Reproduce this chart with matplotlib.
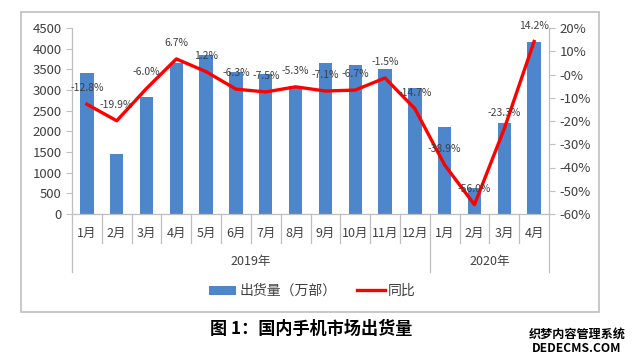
import matplotlib
matplotlib.use("Agg")
import matplotlib.pyplot as plt
from matplotlib.patches import Rectangle, Patch
from matplotlib.lines import Line2D
from matplotlib.ticker import FuncFormatter
import numpy as np

plt.rcParams['font.family'] = ['Noto Sans CJK SC', 'DejaVu Sans']
plt.rcParams['axes.unicode_minus'] = False

months = ["1月", "2月", "3月", "4月", "5月", "6月", "7月", "8月", "9月", "10月", "11月", "12月",
	"1月", "2月", "3月", "4月"]
years = ["2019年", "2020年"]
year_counts = [12, 4]

shipments = [3419, 1450, 2838, 3660, 3847, 3443, 3380, 3097, 3646, 3605, 3500, 3056,
	2097, 638, 2194, 4172]
yoy = [-12.8, -19.9, -6.0, 6.7, 1.2, -6.3, -7.5, -5.3, -7.1, -6.7, -1.5, -14.7,
	-38.9, -56.0, -23.3, 14.2]

bar_color = "#4e86cc"
line_color = "#ff0000"
text_color = "#404040"
axis_color = "#bfbfbf"

W, H = 638, 361
fig = plt.figure(figsize=(W / 100, H / 100), dpi=100)
ax = fig.add_axes([72 / W, 1 - 214 / H, (549 - 72) / W, (214 - 28) / H])
ax2 = ax.twinx()

x = np.arange(len(months))
ax.bar(x, shipments, width=0.45, color=bar_color, zorder=2)
ax2.plot(x, np.array(yoy) / 100, color=line_color, lw=2.4, zorder=3)

for xi, v in zip(x, yoy):
	ax2.annotate(f"{v:.1f}%", (xi, v / 100), xytext=(0, 11.5), textcoords="offset points",
		ha="center", va="center", fontsize=7.5, color=text_color, zorder=4)

ax.set_xlim(-0.5, len(months) - 0.5)
ax.set_ylim(0, 4500)
ax.set_yticks(np.arange(0, 4501, 500))
ax2.set_ylim(-0.6, 0.2)
ax2.set_yticks(np.arange(-0.6, 0.21, 0.1))
ax2.yaxis.set_major_formatter(FuncFormatter(lambda v, p: f"{v * 100:.0f}%"))

for a in (ax, ax2):
	a.tick_params(axis="y", labelsize=9.5, colors=text_color, length=4, width=0.8)
	a.tick_params(axis="y", color=axis_color)
	a.spines["top"].set_visible(False)
	for s in ("left", "right", "bottom"):
		a.spines[s].set_color(axis_color)
		a.spines[s].set_linewidth(0.9)
ax.spines["right"].set_visible(False)
ax2.spines["left"].set_visible(False)
ax2.spines["bottom"].set_visible(False)

# multi-level category axis
ax.set_xticks([])
trans = ax.get_xaxis_transform()
for xi, m in zip(x, months):
	ax.text(xi, -0.102, m, transform=trans, ha="center", va="center",
		fontsize=9, color=text_color)

bounds = [0]
for c in year_counts:
	bounds.append(bounds[-1] + c)
for b in range(len(months) + 1):
	bottom = -0.31 if b in bounds else -0.155
	ax.plot([b - 0.5, b - 0.5], [0, bottom], transform=trans, color=axis_color,
		lw=0.9, clip_on=False)
for i, yr in enumerate(years):
	center = (bounds[i] + bounds[i + 1] - 1) / 2
	ax.text(center, -0.255, yr, transform=trans, ha="center", va="center",
		fontsize=9, color=text_color)

# legend
handles = [Patch(facecolor=bar_color, edgecolor="none"),
	Line2D([], [], color=line_color, lw=2.4)]
fig.legend(handles, ["出货量（万部）", "同比"], loc="center", bbox_to_anchor=(312 / W, 1 - 291 / H),
	ncol=2, frameon=False, fontsize=10, handlelength=2.0, handleheight=0.6,
	columnspacing=1.5, handletextpad=0.2, labelcolor=text_color)

# chart frame
fig.patches.append(Rectangle((21 / W, 1 - 312 / H), (599 - 21) / W, (312 - 12) / H,
	transform=fig.transFigure, fill=False, edgecolor=axis_color, lw=1.2))

fig.text(311 / W, 1 - 329 / H, "图 1：国内手机市场出货量", ha="center", va="center",
	fontsize=12.3, fontweight="bold", color="black")

fig.text(577 / W, 1 - 334 / H, "织梦内容管理系统", ha="center", va="center",
	fontsize=8.7, fontweight="bold", color="black")
fig.text(577 / W, 1 - 348 / H, "DEDECMS.COM", ha="center", va="center",
	fontsize=8.7, fontweight="bold", color="black")

fig.savefig("out.png", dpi=100)
